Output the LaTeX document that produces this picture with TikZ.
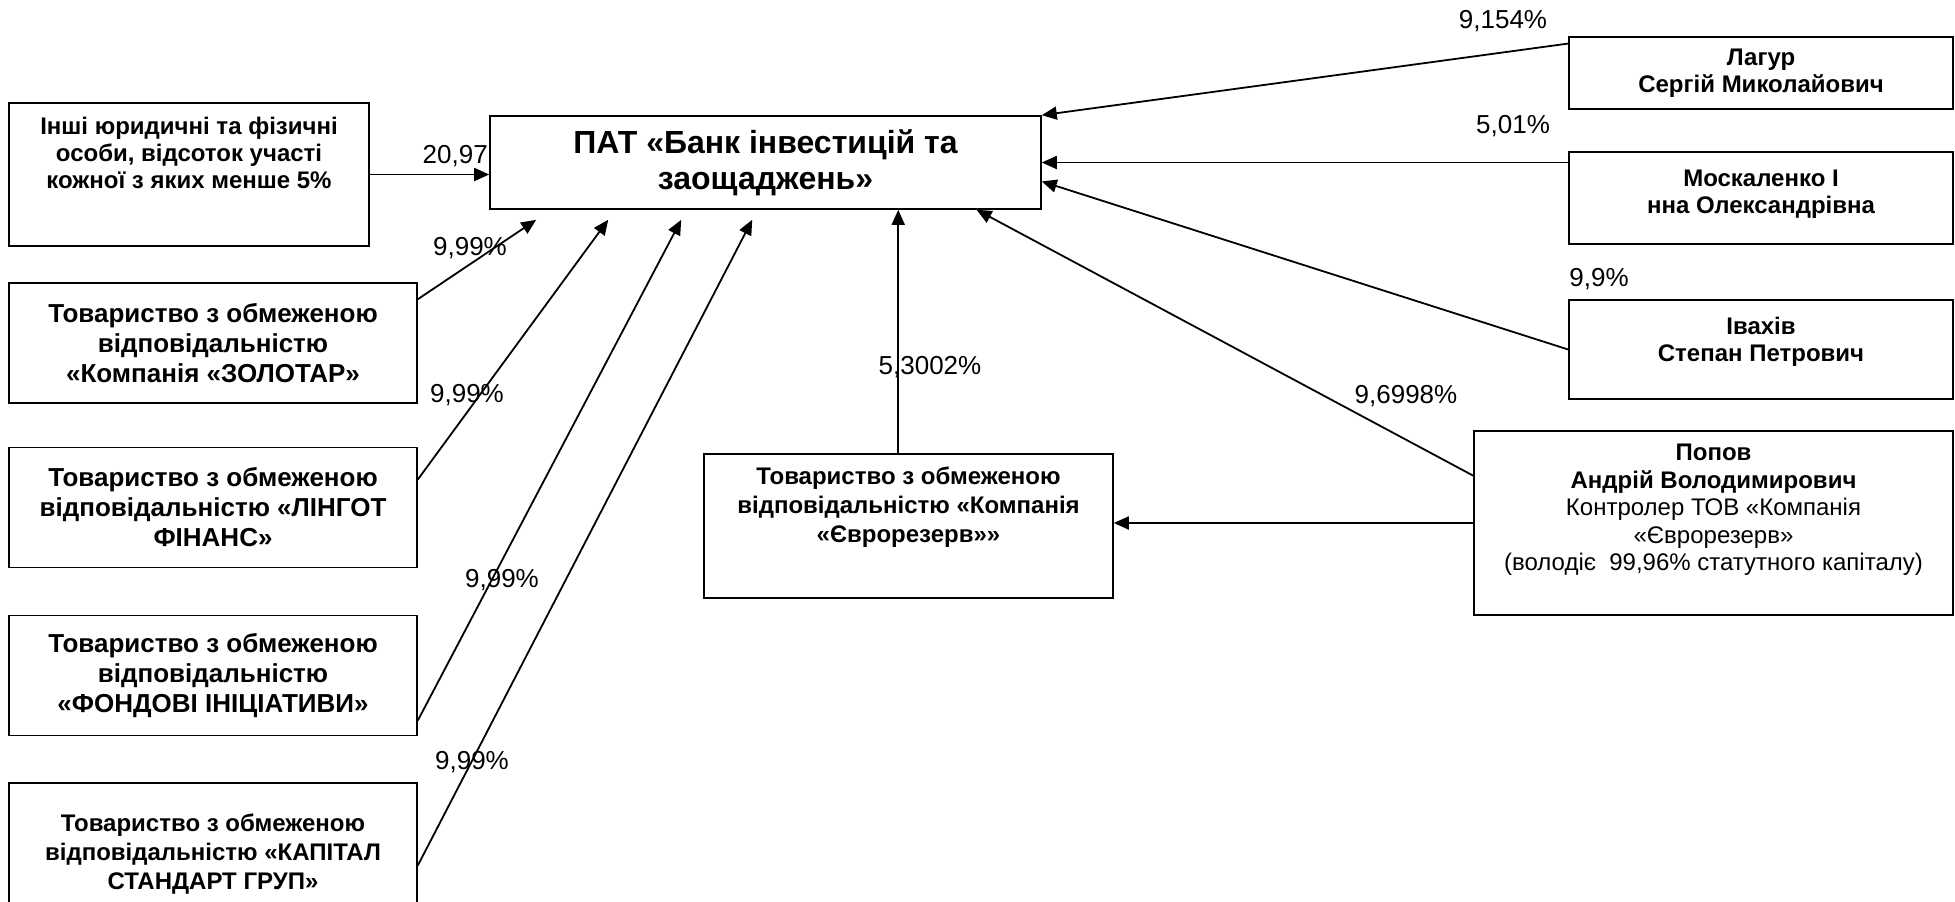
\documentclass[tikz,border=0pt]{standalone}
\usepackage{fontspec}
\setmainfont{Liberation Sans}
\usetikzlibrary{arrows.meta,calc}

\begin{document}
\begin{tikzpicture}[x=0.5pt,y=-0.5pt,
  box/.style={draw,line width=0.8pt,align=center,inner sep=2pt},
  big/.style={font=\fontsize{16}{18}\selectfont\bfseries},
  firm/.style={font=\fontsize{13}{15}\selectfont\bfseries},
  smallfirm/.style={font=\fontsize{12}{14.5}\selectfont\bfseries},
  person/.style={font=\fontsize{12}{13.6}\selectfont\bfseries},
  pct/.style={font=\fontsize{13}{15}\selectfont,inner sep=0pt},
  link/.style={line width=0.9pt,-{Triangle[length=7.5pt,width=6.5pt]}},
  lift/.style={text depth=#1}]
  \useasboundingbox (0,0) rectangle (1955,901);
  \node[box,big,minimum width=275.5pt,minimum height=46.5pt] (bank) at (765.5,162.5)
    {ПАТ «Банк інвестицій та\\заощаджень»};
  \node[box,person,minimum width=180pt,minimum height=71.5pt,lift=22pt] (others) at (189,174.5)
    {Інші юридичні та фізичні\\особи, відсоток участі\\кожної з яких менше 5\%};
  \node[box,firm,minimum width=204pt,minimum height=60pt] (zolotar) at (213,343)
    {Товариство з обмеженою\\відповідальністю\\«Компанія «ЗОЛОТАР»};
  \node[box,firm,minimum width=204pt,minimum height=60pt] (lingot) at (213,507.5)
    {Товариство з обмеженою\\відповідальністю «ЛІНГОТ\\ФІНАНС»};
  \node[box,firm,minimum width=204pt,minimum height=60pt] (fond) at (213,675.5)
    {Товариство з обмеженою\\відповідальністю\\«ФОНДОВІ ІНІЦІАТИВИ»};
  \node[box,smallfirm,minimum width=204pt,minimum height=71pt] (kapital) at (213,854)
    {Товариство з обмеженою\\відповідальністю «КАПІТАЛ\\СТАНДАРТ ГРУП»};
  \node[box,person,minimum width=192pt,minimum height=36pt] (lagur) at (1761,73)
    {Лагур\\Сергій Миколайович};
  \node[box,person,minimum width=192pt,minimum height=46pt,lift=6.5pt] (moskalenko) at (1761,198)
    {Москаленко І\\нна Олександрівна};
  \node[box,person,minimum width=192pt,minimum height=49.5pt,lift=10.5pt] (ivakhiv) at (1761,349.5)
    {Івахів\\Степан Петрович};
  \node[box,minimum width=239.5pt,minimum height=92pt,lift=15.5pt,
    font=\fontsize{12}{13.75}\selectfont] (popov) at (1713.5,523)
    {\textbf{Попов}\\\textbf{Андрій Володимирович}\\Контролер ТОВ «Компанія\\«Єврорезерв»\\(володіє\ \ 99,96\% статутного капіталу)};
  \node[box,smallfirm,minimum width=204.5pt,minimum height=72pt,lift=21pt] (evro) at (908.5,526)
    {Товариство з обмеженою\\відповідальністю «Компанія\\«Єврорезерв»»};

  \draw[link] (others.east) -- (others.east -| bank.west);
  \draw[link] ($(zolotar.north east)!.14!(zolotar.south east)$) -- ($(bank.south west)+(47,10)$);
  \draw[link] ($(lingot.north east)!.27!(lingot.south east)$) -- ($(bank.south west)+(119,10)$);
  \draw[link] ($(fond.north east)!.87!(fond.south east)$) -- ($(bank.south west)+(192,10)$);
  \draw[link] ($(kapital.north east)!.58!(kapital.south east)$) -- ($(bank.south west)+(263,10)$);
  \draw[link] ($(lagur.north west)!.1!(lagur.south west)$) -- (bank.north east);
  \draw[link] (moskalenko.west |- bank.east) -- (bank.east);
  \draw[link] (ivakhiv.west) -- ($(bank.north east)!.7!(bank.south east)$);
  \draw[link] ($(popov.north west)!.245!(popov.south west)$) -- ($(bank.south west)!.882!(bank.south east)$);
  \draw[link] (popov.west) -- (popov.west -| evro.east);
  \coordinate (evtop) at ($(evro.north west)!.475!(evro.north east)$);
  \draw[link] (evtop) -- (evtop |- bank.south);

  \node[pct,anchor=south east] (p2097) at ($(others.east -| bank.west)+(-1,-7)$) {20,97};
  \node[pct] (p9154) at (1503,21) {9,154\%};
  \node[pct] (p501) at (1513,126) {5,01\%};
  \node[pct] (p99) at (1599,279) {9,9\%};
  \node[pct] (p96998) at (1406,396) {9,6998\%};
  \node[pct] (p53002) at (930,367) {5,3002\%};
  \node[pct] (pzolotar) at (470,248) {9,99\%};
  \node[pct] (plingot) at (467,395) {9,99\%};
  \node[pct] (pfond) at (502,580) {9,99\%};
  \node[pct] (pkapital) at (472,762) {9,99\%};
\end{tikzpicture}
\end{document}
